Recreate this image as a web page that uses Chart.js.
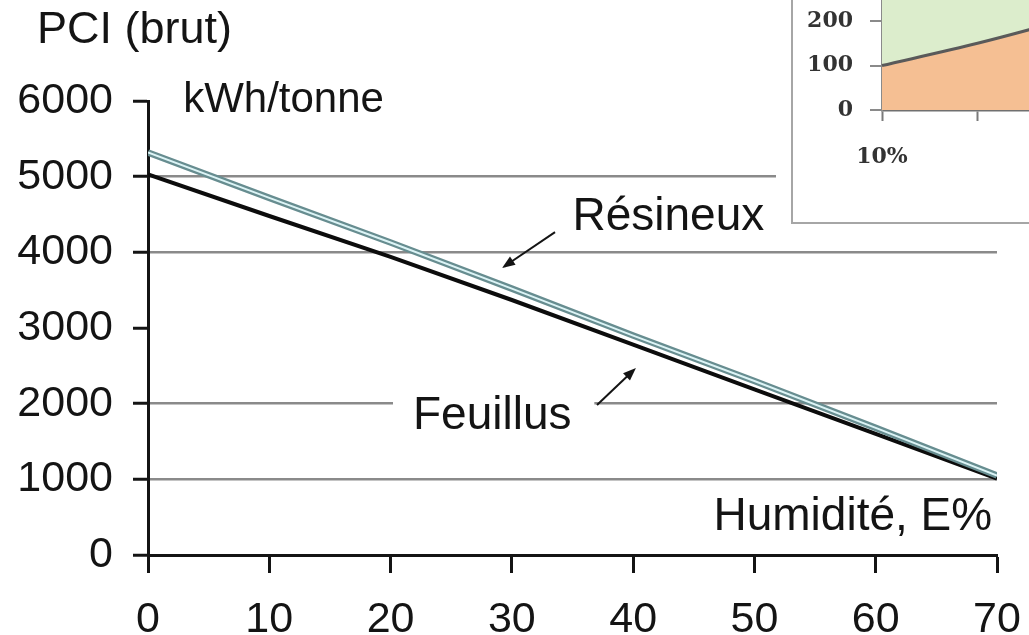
<!DOCTYPE html>
<html>
<head>
<meta charset="utf-8">
<script src="https://cdn.jsdelivr.net/npm/chart.js@4.4.1/dist/chart.umd.min.js"></script>
<style>
  body { margin: 0; background: #fff; overflow: hidden; }
  #cadre { position: relative; width: 1029px; height: 635px; overflow: hidden; }
  #encart { position: absolute; left: 776px; top: -100px; width: 400px; height: 338px; background: #fff; }
  #boite { position: absolute; left: 15px; top: 0; width: 385px; height: 324px; border: 2px solid #a6a6a6; box-sizing: border-box; background: #fff; }
</style>
</head>
<body>
<div id="cadre">
  <canvas id="pci" width="1029" height="635"></canvas>
  <div id="encart"><div id="boite"><canvas id="mini" width="520" height="320"></canvas></div></div>
</div>
<script>
// humidité E% et PCI brut en kWh/tonne
const humidite = [0, 10, 20, 30, 40, 50, 60, 70];
const feuillus = [5030, 4480, 3940, 3370, 2780, 2190, 1600, 1010];
const resineux = [5320, 4720, 4130, 3520, 2900, 2300, 1680, 1050];
const lignesGrille = [1000, 2000, 4000, 5000];

// petit graphique en haut à droite (coupé)
const encartCategories = ['10%', '15%', '20%', '25%', '30%'];
const encartBas = [100, 150, 208, 272, 342];
const encartHaut = [400, 400, 400, 400, 400];

const police = '"Liberation Sans", Arial, sans-serif';
const noir = '#141414';

const pts = (arr) => humidite.map((h, i) => ({ x: h, y: arr[i] }));

function fleche(ctx, x1, y1, x2, y2) {
    const a = Math.atan2(y2 - y1, x2 - x1);
    ctx.beginPath();
    ctx.moveTo(x1, y1);
    ctx.lineTo(x2 - 8 * Math.cos(a), y2 - 8 * Math.sin(a));
    ctx.stroke();
    ctx.beginPath();
    ctx.moveTo(x2, y2);
    ctx.lineTo(x2 - 13 * Math.cos(a) + 5 * Math.sin(a), y2 - 13 * Math.sin(a) - 5 * Math.cos(a));
    ctx.lineTo(x2 - 13 * Math.cos(a) - 5 * Math.sin(a), y2 - 13 * Math.sin(a) + 5 * Math.cos(a));
    ctx.closePath();
    ctx.fill();
}

const etiquettes = {
    id: 'etiquettes',
    afterDatasetsDraw(chart) {
        const { ctx, scales: { x, y } } = chart;
        ctx.save();
        // blanc derrière "Feuillus"
        ctx.fillStyle = '#fff';
        const g = x.getPixelForValue(20.2), d = x.getPixelForValue(36.8);
        ctx.fillRect(g, y.getPixelForValue(2000) - 5, d - g, 10);

        ctx.fillStyle = noir;
        ctx.strokeStyle = noir;
        ctx.lineWidth = 2;
        ctx.textBaseline = 'middle';
        ctx.textAlign = 'left';
        ctx.font = '45px ' + police;
        ctx.fillText('PCI (brut)', 37, 31);
        ctx.font = '46px ' + police;
        ctx.fillText('Résineux', x.getPixelForValue(35.0), y.getPixelForValue(4467));
        ctx.fillText('Feuillus', x.getPixelForValue(21.85), y.getPixelForValue(1837));
        ctx.font = '42px ' + police;
        ctx.fillText('kWh/tonne', x.getPixelForValue(2.9), y.getPixelForValue(6013));
        ctx.font = '46px ' + police;
        ctx.textAlign = 'right';
        ctx.fillText('Humidité, E%', x.getPixelForValue(69.6), y.getPixelForValue(502));

        fleche(ctx, x.getPixelForValue(33.56), y.getPixelForValue(4268), x.getPixelForValue(29.19), y.getPixelForValue(3793));
        fleche(ctx, x.getPixelForValue(37.02), y.getPixelForValue(1982), x.getPixelForValue(40.23), y.getPixelForValue(2471));
        ctx.restore();
    }
};

new Chart(document.getElementById('pci'), {
    type: 'line',
    data: {
        datasets: [
            { label: 'Résineux', data: pts(resineux), borderColor: '#dcf4f6', borderWidth: 2 },
            { label: 'Résineux (bord)', data: pts(resineux), borderColor: '#678d90', borderWidth: 6.5 },
            { label: 'Feuillus', data: pts(feuillus), borderColor: '#0c0c0c', borderWidth: 4 }
        ]
    },
    options: {
        responsive: false,
        animation: false,
        events: [],
        layout: { padding: { top: 101, right: 0, left: 0, bottom: 0 } },
        elements: { point: { radius: 0 }, line: { tension: 0 } },
        plugins: { legend: { display: false }, tooltip: { enabled: false } },
        scales: {
            x: {
                type: 'linear', min: 0, max: 70,
                ticks: { stepSize: 10, color: noir, padding: 21, font: { family: police, size: 43 }, callback: (v) => String(v) },
                grid: { drawOnChartArea: false, tickLength: 18, tickColor: noir, tickWidth: 3 },
                border: { color: noir, width: 3 },
                afterFit: (s) => { s.height = 80; s.paddingRight = 32; s.paddingLeft = 0; }
            },
            y: {
                min: 0, max: 6000,
                ticks: { stepSize: 1000, color: noir, padding: 20, font: { family: police, size: 43 }, callback: (v) => String(v) },
                grid: {
                    color: (c) => lignesGrille.includes(c.tick.value) ? '#8a8a8a' : 'rgba(0,0,0,0)',
                    lineWidth: 2.5, tickLength: 15, tickColor: noir, tickWidth: 3
                },
                border: { color: noir, width: 3 },
                afterFit: (s) => { s.width = 148; }
            }
        }
    },
    plugins: [etiquettes]
});

const serif = '"DejaVu Serif", serif';
new Chart(document.getElementById('mini'), {
    type: 'line',
    data: {
        labels: encartCategories,
        datasets: [
            { data: encartBas, borderColor: '#5a5a5a', borderWidth: 3, backgroundColor: '#f5bf93', fill: 'origin', tension: 0.3 },
            { data: encartHaut, borderWidth: 0, backgroundColor: '#dcedcc', fill: '-1' }
        ]
    },
    options: {
        responsive: false,
        animation: false,
        events: [],
        layout: { padding: { top: 18, right: 19, left: 0, bottom: 0 } },
        elements: { point: { radius: 0 } },
        plugins: { legend: { display: false }, tooltip: { enabled: false } },
        scales: {
            x: {
                z: 1,
                ticks: {
                    color: '#333', padding: 23, maxRotation: 0, autoSkip: false,
                    font: { family: serif, size: 22, weight: 'bold' },
                    callback: (v, i) => i % 2 === 0 ? encartCategories[i] : ''
                },
                grid: { drawOnChartArea: false, tickLength: 11, tickColor: '#7a7a7a', tickWidth: 2 },
                border: { color: '#707070', width: 2.5 },
                afterFit: (s) => { s.height = 112; }
            },
            y: {
                z: 1,
                min: 0, max: 400,
                ticks: { stepSize: 100, color: '#333', padding: 17, font: { family: serif, size: 22, weight: 'bold' } },
                grid: { color: 'rgba(60,70,40,0.3)', lineWidth: 2, tickLength: 12, tickColor: '#8a8a8a', tickWidth: 2 },
                border: { color: '#8a8a8a', width: 2 },
                afterFit: (s) => { s.width = 89; }
            }
        }
    }
});
</script>
</body>
</html>
